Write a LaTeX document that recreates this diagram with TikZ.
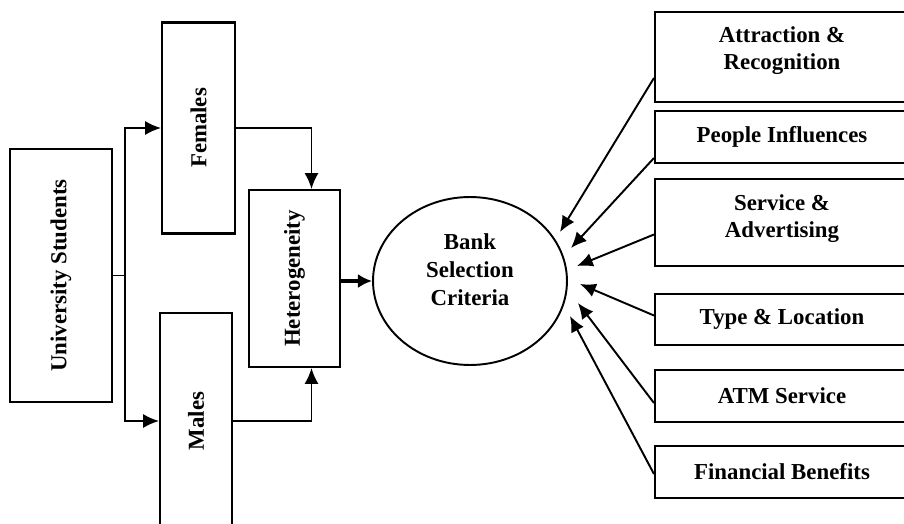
\documentclass[tikz,border=0pt]{standalone}
\usepackage{fontspec}
\setmainfont{Liberation Serif}
\usetikzlibrary{calc}
\usetikzlibrary{shapes,arrows.meta}

\tikzset{
  box/.style={draw, line width=1.2pt, inner sep=0pt, align=center, font=\fontsize{13}{15.5}\selectfont\bfseries},
  crit/.style={box, minimum width=5.08cm},
  bsc/.style={ellipse, draw, line width=1.1pt, align=center, minimum width=3.88cm, minimum height=3.36cm, font=\fontsize{13}{16}\selectfont\bfseries},
  link/.style={line width=1.1pt},
  arr/.style={link, -{Latex[length=9pt,width=8pt]}}
}

\begin{document}
\begin{tikzpicture}[x=0.02cm, y=-0.02cm]
    \useasboundingbox (0,0) rectangle (904,524);
    \clip (0,0) rectangle (904,524);

    \coordinate (U) at (61,275.5);
    \coordinate (F) at (198.5,128);
    \coordinate (M) at (196,421);
    \coordinate (H) at (294.5,278.5);
    \coordinate (C) at (470,281);
    \coordinate (R1) at (782,57);
    \coordinate (R2) at (782,137);
    \coordinate (R3) at (782,222.5);
    \coordinate (R4) at (782,319.5);
    \coordinate (R5) at (782,396);
    \coordinate (R6) at (782,472);

    \node [box, minimum width=2.04cm, minimum height=5.06cm](univ) at (U) {\rotatebox{90}{University Students}};
    \node [box, minimum width=1.46cm, minimum height=4.22cm](fem) at (F) {\rotatebox{90}{Females}};
    \node [box, minimum width=1.44cm, minimum height=4.32cm](male) at (M) {\rotatebox{90}{Males}};
    \node [box, minimum width=1.82cm, minimum height=3.54cm](het) at (H) {\rotatebox{90}{Heterogeneity}};
    \node [bsc](crit) at (C) {Bank\\Selection\\Criteria\\[-0.12cm]};

    \node [crit, minimum height=1.8cm](attr) at (R1) {Attraction \&\\Recognition\\[-0.18cm]};
    \node [crit, minimum height=1.04cm](peop) at (R2) {People Influences};
    \node [crit, minimum height=1.74cm](serv) at (R3) {Service \&\\Advertising\\[-0.3cm]};
    \node [crit, minimum height=1.02cm](type) at (R4) {Type \& Location};
    \node [crit, minimum height=1.04cm](atm) at (R5) {ATM Service};
    \node [crit, minimum height=1.04cm](fin) at (R6) {Financial Benefits};

    \coordinate (split) at ($(univ.east)+(12,0)$);
    \coordinate (E1) at (560,232);
    \coordinate (E2) at (571,248);
    \coordinate (E3) at (577,266);
    \coordinate (E4) at (580,284);
    \coordinate (E5) at (578,303);
    \coordinate (E6) at (570,316);

    \draw [link](univ.east) -- (split);
    \draw [arr](split) |- (fem.west);
    \draw [arr](split) |- (male.west);
    \draw [arr](fem.east) -| ($(het.north)+(17,0)$);
    \draw [arr](male.east) -| ($(het.south)+(17,0)$);
    \draw [line width=2.8pt, -{Latex[length=8pt,width=8pt]}](het.east |- crit.west) -- (crit.west);

    \draw [arr]($(attr.west)+(0,21)$) -- (E1);
    \draw [arr]($(peop.west)+(0,21)$) -- (E2);
    \draw [arr]($(serv.west)+(0,12)$) -- (E3);
    \draw [arr]($(type.west)+(0,-4)$) -- (E4);
    \draw [arr]($(atm.west)+(0,7)$) -- (E5);
    \draw [arr]($(fin.west)+(0,2)$) -- (E6);

  \end{tikzpicture}
\end{document}
